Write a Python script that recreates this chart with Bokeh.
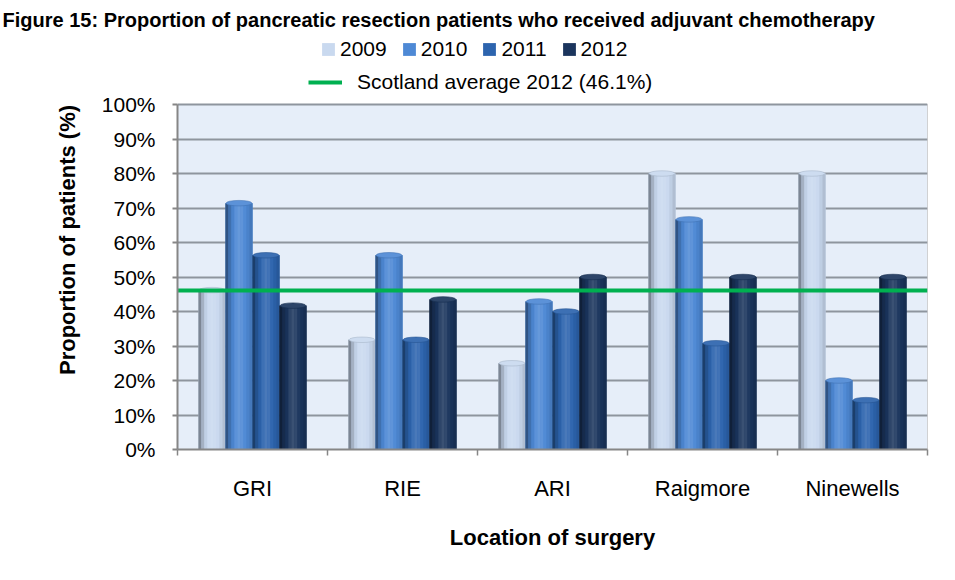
from bokeh.plotting import figure
from bokeh.models import (FixedTicker, PrintfTickFormatter, Range1d, Legend, LegendItem)
from bokeh.embed import file_html
from bokeh.resources import INLINE

# ---------------- data ----------------
categories = ["GRI", "RIE", "ARI", "Raigmore", "Ninewells"]
years = ["2009", "2010", "2011", "2012"]
v2009 = [46.2, 31.8, 25.0, 80.0, 80.0]
v2010 = [71.4, 56.3, 42.9, 66.7, 20.0]
v2011 = [56.3, 31.8, 40.0, 30.8, 14.3]
v2012 = [41.7, 43.5, 50.0, 50.0, 50.0]
series = [v2009, v2010, v2011, v2012]
scotland_avg = 46.1
avg_label = "Scotland average 2012 (46.1%)"
y_ticks = [0, 10, 20, 30, 40, 50, 60, 70, 80, 90, 100]
title_text = "Figure 15: Proportion of pancreatic resection patients who received adjuvant chemotherapy"
y_title = "Proportion of patients (%)"
x_title = "Location of surgery"

# ---------------- style / layout ----------------
base_colors = ["#c9d9ef", "#4e89d5", "#2d64ae", "#1b355d"]
FONT = "Liberation Sans"
W, H = 955, 580
FRAME_TOP, AREA_TOP, AREA_BOTTOM = 30, 104, 449   # canvas px
y_min, y_max = y_ticks[0], y_ticks[-1]
y_end = y_min + (y_max - y_min) * (AREA_BOTTOM - FRAME_TOP) / (AREA_BOTTOM - AREA_TOP)


def shade(hexcol, f):
    r, g, b = int(hexcol[1:3], 16), int(hexcol[3:5], 16), int(hexcol[5:7], 16)
    if f < 1:
        r, g, b = r * f, g * f, b * f
    else:
        t = f - 1
        r, g, b = r + (255 - r) * t, g + (255 - g) * t, b + (255 - b) * t
    return "#%02x%02x%02x" % (int(r), int(g), int(b))


p = figure(width=W, height=H, output_backend="svg", toolbar_location=None,
           x_range=Range1d(0, len(categories)), y_range=Range1d(y_min, y_end),
           min_border_left=177, min_border_right=28, min_border_top=FRAME_TOP,
           min_border_bottom=H - AREA_BOTTOM, background_fill_color="white",
           border_fill_color="white", outline_line_color=None)

p.title.text = title_text
p.title.align = "left"
p.title.offset = -175
p.title.standoff = 0
p.title.text_font = FONT
p.title.text_font_size = "20px"
p.title.text_font_style = "bold"
p.title.text_color = "black"

# plot area (light blue panel spanning the value axis)
p.quad(left=0, right=len(categories), bottom=y_min, top=y_max,
       fill_color="#e6eef9", line_color="#a8a8a8", line_width=1, level="underlay")

bw = 0.18
nslice = 9
profile = [0.62, 0.82, 0.96, 1.08, 1.14, 1.10, 1.02, 0.95, 0.88]

legend_items = []
for j, (yr, vals) in enumerate(zip(years, series)):
    centers = [i + 0.5 + (j - 1.5) * bw for i in range(len(categories))]
    base = p.vbar(x=centers, top=vals, width=bw, bottom=0,
                  fill_color=base_colors[j], line_color=None)
    legend_items.append(LegendItem(label=yr, renderers=[base]))
    for k in range(nslice):
        xs = [c - bw / 2 + (k + 0.5) * bw / nslice for c in centers]
        p.vbar(x=xs, top=vals, width=bw / nslice * 1.08, bottom=0,
               fill_color=shade(base_colors[j], profile[k]), line_color=None)
    p.ellipse(x=centers, y=vals, width=bw * 0.96, height=1.6,
              fill_color=shade(base_colors[j], 1.08), line_color=shade(base_colors[j], 0.85),
              line_width=0.6)

avg_r = p.hspan(y=[scotland_avg], line_color="#00b050", line_width=4)

# ---------------- axes ----------------
p.yaxis.bounds = (y_min, y_max)
p.yaxis.ticker = FixedTicker(ticks=y_ticks)
p.yaxis.formatter = PrintfTickFormatter(format="%d%%")
p.yaxis.major_label_text_font = FONT
p.yaxis.major_label_text_font_size = "21px"
p.yaxis.major_label_text_color = "black"
p.yaxis.major_tick_out = 5
p.yaxis.major_tick_in = 0
p.yaxis.minor_tick_line_color = None
p.yaxis.major_label_standoff = 17
p.yaxis.axis_line_color = "#868686"
p.yaxis.axis_line_width = 2
p.yaxis.major_tick_line_color = "#868686"
p.yaxis.major_tick_line_width = 2
p.yaxis.axis_label = y_title
p.yaxis.axis_label_text_font = FONT
p.yaxis.axis_label_text_font_style = "bold"
p.yaxis.axis_label_text_font_size = "22px"
p.yaxis.axis_label_text_color = "black"
p.yaxis.axis_label_standoff = 19

centers_cat = [i + 0.5 for i in range(len(categories))]
bounds = [i for i in range(len(categories) + 1)]
p.xaxis.ticker = FixedTicker(ticks=centers_cat, minor_ticks=bounds)
p.xaxis.major_label_overrides = {c: n for c, n in zip(centers_cat, categories)}
p.xaxis.major_tick_out = 0
p.xaxis.major_tick_in = 0
p.xaxis.major_tick_line_color = None
p.xaxis.minor_tick_out = 6
p.xaxis.minor_tick_in = 0
p.xaxis.minor_tick_line_color = "#868686"
p.xaxis.minor_tick_line_width = 1.5
p.xaxis.axis_line_color = "#868686"
p.xaxis.axis_line_width = 2
p.xaxis.major_label_text_font = FONT
p.xaxis.major_label_text_font_size = "22px"
p.xaxis.major_label_text_color = "black"
p.xaxis.major_label_standoff = 20
p.xaxis.axis_label = x_title
p.xaxis.axis_label_text_font = FONT
p.xaxis.axis_label_text_font_style = "bold"
p.xaxis.axis_label_text_font_size = "22px"
p.xaxis.axis_label_text_color = "black"
p.xaxis.axis_label_standoff = 21

p.xgrid.grid_line_color = None
p.ygrid.ticker = FixedTicker(ticks=y_ticks)
p.ygrid.grid_line_color = "#8e959e"
p.ygrid.grid_line_width = 2

# ---------------- legends (inside the frame, above the plot area) ----------------
common = dict(orientation="horizontal", padding=0, margin=0, background_fill_alpha=0,
              border_line_color=None, label_text_font=FONT, label_text_color="black",
              label_text_font_size="21px", label_height=20)
leg1 = Legend(items=legend_items, location=(143, AREA_BOTTOM - 61),
              glyph_width=16, glyph_height=16, label_standoff=4, spacing=14, **common)
leg2 = Legend(items=[LegendItem(label=avg_label, renderers=[avg_r])],
              location=(131, AREA_BOTTOM - 94),
              glyph_width=34, glyph_height=16, label_standoff=15, **common)
p.add_layout(leg1, "center")
p.add_layout(leg2, "center")

open("out.html", "w").write(file_html(p, INLINE))
